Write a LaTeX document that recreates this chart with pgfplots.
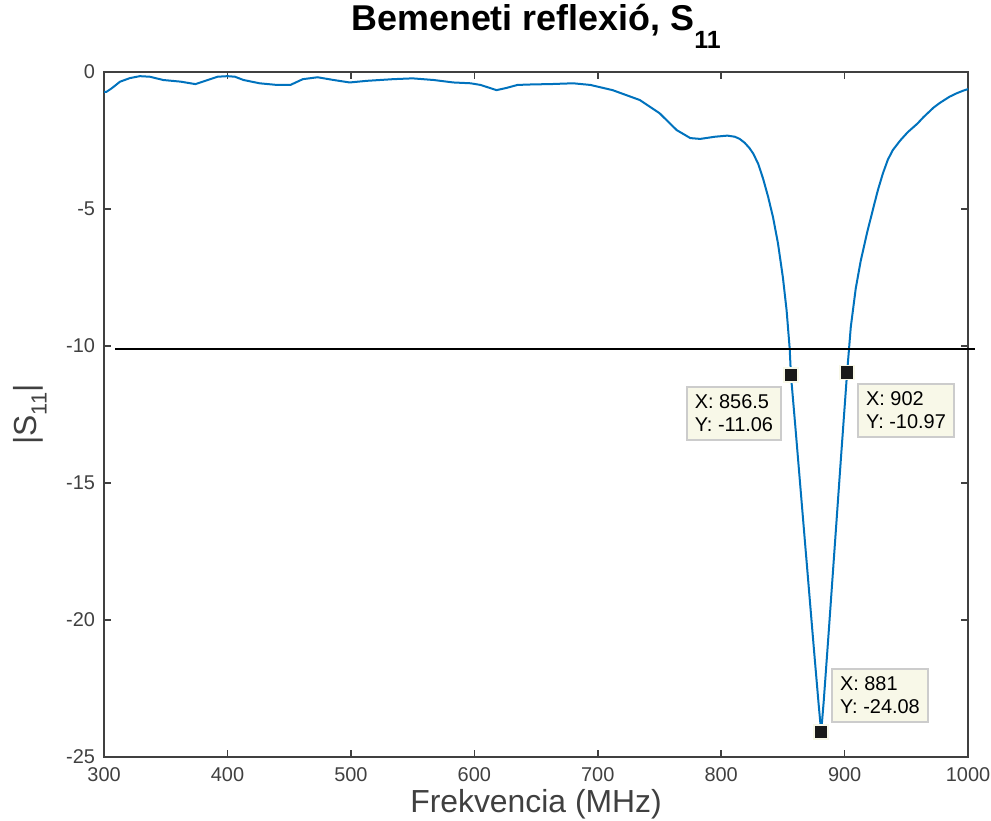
\documentclass[border=0pt]{standalone}
\usepackage{pgfplots}
\pgfplotsset{compat=1.18}
\usepackage{fontspec}
\setmainfont{Liberation Sans}

\definecolor{mblue}{rgb}{0,0.447,0.741}
\definecolor{axgray}{RGB}{64,64,64}
\definecolor{tipbg}{RGB}{248,248,232}
\definecolor{tipedge}{RGB}{204,204,204}

\tikzset{tipbox/.style={draw=tipedge, line width=1bp, fill=tipbg, align=left,
  font=\fontsize{10}{11.5}\selectfont, inner xsep=4bp, inner ysep=4bp}}

\begin{document}
\begin{tikzpicture}
\begin{axis}[
    scale only axis,
    width=432bp, height=342.5bp,
    xmin=300, xmax=1000,
    ymin=-25, ymax=0,
    xtick={300,400,...,1000},
    ytick={-25,-20,-15,-10,-5,0},
    yticklabels={-25,-20,-15,-10,-5,0},
    tick align=inside,
    major tick length=3.5bp,
    axis line style={axgray, line width=0.8bp},
    tick style={axgray, line width=0.8bp},
    tick label style={font=\fontsize{10}{11}\selectfont, text=axgray},
    xticklabel style={yshift=-1.5bp},
    yticklabel style={xshift=-1bp},
    /pgf/number format/assume math mode=true,
    /pgf/number format/1000 sep={},
    xlabel={Frekvencia (MHz)},
    ylabel={|S\raisebox{-5bp}{\fontsize{11}{13}\selectfont 11}|},
    label style={font=\fontsize{16}{18}\selectfont, text=axgray},
    xlabel style={at={(axis description cs:0.5,-0.069)}, anchor=center},
    ylabel style={at={(axis description cs:-0.0856,0.5)}, anchor=center},
    title={Bemeneti reflexió, S\raisebox{-9bp}{\fontsize{12.5}{14}\selectfont 11}},
    title style={font=\bfseries\fontsize{18}{21}\selectfont, at={(axis description cs:0.5,1)}, anchor=base, yshift=15bp},
    clip=false,
]

\addplot[mblue, line width=1bp] coordinates {
    (300,-0.72) (302,-0.72) (306,-0.60) (313,-0.35) (321,-0.22) (329,-0.15)
    (337,-0.17) (348,-0.29) (362,-0.35) (374,-0.44) (380,-0.35) (392,-0.17)
    (400,-0.15) (406,-0.17) (413,-0.29) (426,-0.41) (440,-0.47) (451,-0.47)
    (461,-0.26) (473,-0.19) (486,-0.29) (499,-0.38) (513,-0.32) (520,-0.30)
    (534,-0.26) (550,-0.23) (567,-0.29) (583,-0.38) (597,-0.41) (605,-0.47)
    (618,-0.66) (626,-0.58) (635,-0.47) (648,-0.45) (661,-0.44) (680,-0.41)
    (694,-0.47) (712,-0.66) (734,-1.02) (750,-1.50) (764,-2.12) (775,-2.41)
    (783,-2.44) (795,-2.36) (805,-2.32) (811,-2.36) (815,-2.44) (819,-2.58)
    (823,-2.78) (826,-2.98) (830,-3.35) (834,-3.90) (838,-4.55) (842,-5.30)
    (846,-6.25) (850,-7.50) (853,-8.70) (855.5,-10.10) (856.5,-11.06)
    (860,-12.9) (865,-15.6) (870,-18.3) (875,-21.0) (879,-23.1) (881,-24.08)
    (883,-23.0) (887,-20.5) (892,-17.3) (897,-14.1) (902,-10.97) (905,-9.30)
    (909,-7.90) (913,-6.90) (918,-5.90) (923,-5.00) (927,-4.30) (931,-3.70)
    (935,-3.20) (939,-2.85) (945,-2.50) (951,-2.20) (959,-1.88) (964,-1.64)
    (972,-1.30) (977,-1.13) (985,-0.90) (991,-0.77) (996,-0.68) (1000,-0.62)
};

% -10 dB reference line
\addplot[black, line width=0.7bp] coordinates {(309,-10.1) (1006,-10.1)};

% data tips
\addplot[only marks, mark=square*, mark size=3.5bp,
    mark options={fill=black!90, draw=tipbg, line width=0.8bp}]
    coordinates {(856.5,-11.06) (881,-24.08) (902,-10.97)};

\node[tipbox, anchor=north east] at (axis cs:849.3,-11.46) {X: 856.5\\Y: -11.06};
\node[tipbox, anchor=north west] at (axis cs:910.1,-11.35) {X: 902\\Y: -10.97};
\node[tipbox, anchor=south west] at (axis cs:889,-23.76) {X: 881\\Y: -24.08};

\coordinate (bbl) at (axis cs:215.7,-27.3);
\coordinate (btr) at (axis cs:1018.6,2.63);
\end{axis}
\pgfresetboundingbox
\path[use as bounding box] (bbl) rectangle (btr);
\end{tikzpicture}
\end{document}
